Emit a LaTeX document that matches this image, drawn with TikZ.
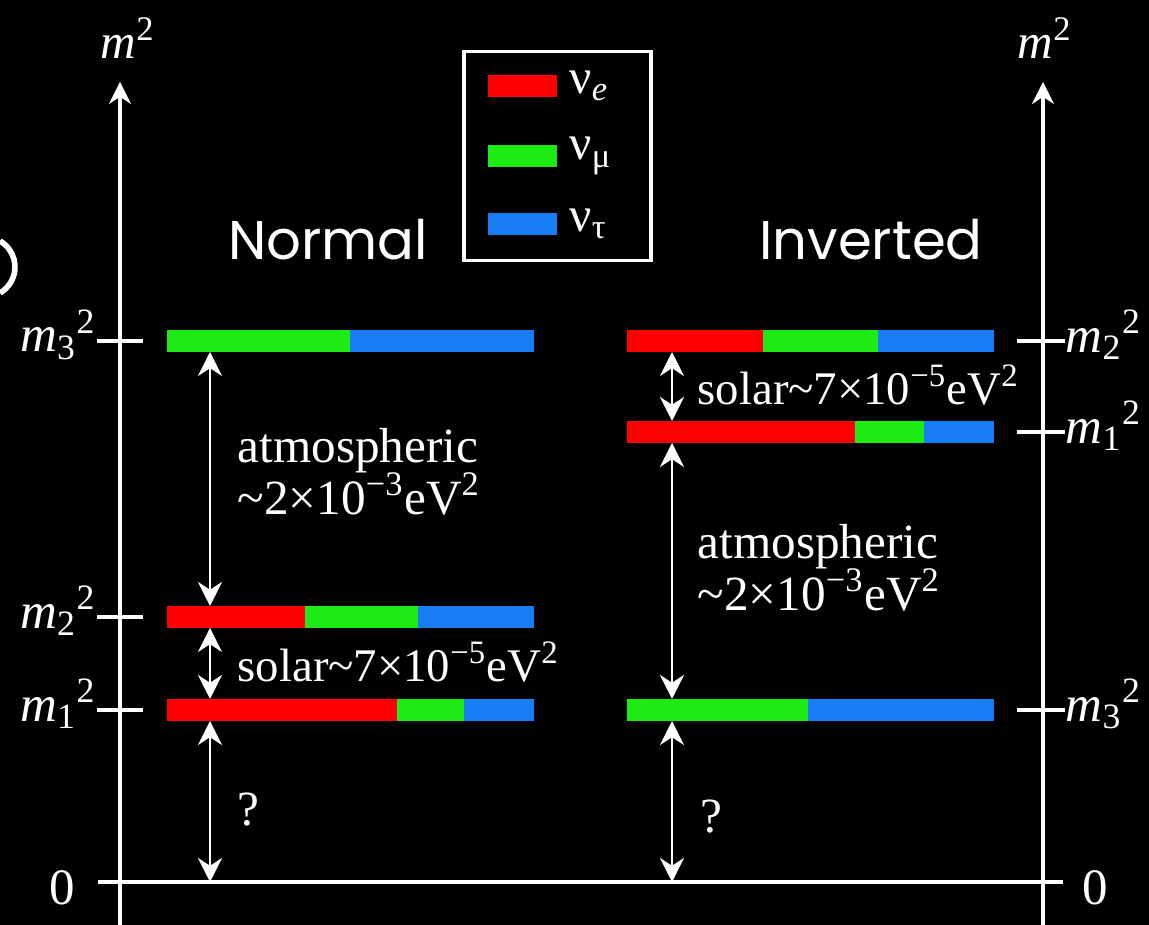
\documentclass[tikz,border=0pt]{standalone}
\usepackage{fontspec}
\setmainfont{Liberation Serif}
\newfontfamily\titlefont{Poppins}
\usetikzlibrary{arrows.meta,positioning}
\definecolor{nured}{RGB}{255,0,0}
\definecolor{nugreen}{RGB}{30,235,20}
\definecolor{nublue}{RGB}{25,125,245}
\tikzset{
  seg/.style={minimum height=0.22cm, inner sep=0pt, outer sep=0pt},
  gap/.style={white, line width=0.8pt, {Stealth[length=2.4mm,width=2.4mm]}-{Stealth[length=2.4mm,width=2.4mm]}},
  axis/.style={white, line width=0.9pt},
  lbl/.style={text=white, font=\fontsize{14}{16}\selectfont, inner sep=0pt},
  sol/.style={text=white, font=\fontsize{13.3}{16}\selectfont, inner sep=0pt},
  tick/.style={text=white, font=\fontsize{14.5}{16}\selectfont, inner sep=0pt}
}
\begin{document}
\begin{tikzpicture}
\useasboundingbox (0,0) rectangle (11.49,9.25);
\fill[black] (0,0) rectangle (11.49,9.25);
% cut-off bracket at the left edge
\draw[white, line width=1.6pt] (-0.15,6.58) ++(60:0.3) arc[start angle=60, end angle=-60, radius=0.3];
% axes
\coordinate (lbot) at (1.20,0);
\coordinate (ltop) at (1.20,8.43);
\coordinate (rbot) at (10.43,0);
\coordinate (rtop) at (10.43,8.43);
\coordinate (h0) at (0.98,0.43);
\coordinate (h1) at (10.63,0.43);
\coordinate (lx) at (2.10,0.43);
\coordinate (rx) at (6.72,0.43);
\draw[axis,-{Stealth[length=2.2mm,width=2.2mm]}] (lbot) -- (ltop);
\draw[axis,-{Stealth[length=2.2mm,width=2.2mm]}] (rbot) -- (rtop);
\draw[axis] (h0) -- (h1);
\node[lbl] (lm) at (1.28,8.87) {\textit{m}\textsuperscript{2}};
\node[lbl] (rm) at (10.45,8.87) {\textit{m}\textsuperscript{2}};
\node[tick] (l0) at (0.62,0.37) {0};
\node[tick] (r0) at (10.95,0.37) {0};
% legend
\node[draw=white, line width=0.9pt, minimum width=1.87cm, minimum height=2.09cm, inner sep=0pt] (legend) at (5.575,7.69) {};
\node[seg, fill=nured, minimum width=0.69cm, anchor=west] (ke) at (4.88,8.39) {};
\node[seg, fill=nugreen, minimum width=0.69cm, anchor=west] (km) at (4.88,7.69) {};
\node[seg, fill=nublue, minimum width=0.69cm, anchor=west] (kt) at (4.88,7.01) {};
\node[lbl, right=0.12cm of ke] (ne) {ν\textsubscript{\textit{e}}};
\node[lbl, right=0.12cm of km] (nm) {ν\textsubscript{μ}};
\node[lbl, right=0.12cm of kt] (nt) {ν\textsubscript{τ}};
% titles
\node[text=white, font=\titlefont\fontsize{15.5}{18}\selectfont] (normal) at (3.28,6.85) {Normal};
\node[text=white, font=\titlefont\fontsize{15.5}{18}\selectfont] (inverted) at (8.71,6.85) {Inverted};
% normal ordering
\node[seg, fill=nugreen, minimum width=1.83cm, anchor=west] (n3g) at (1.67,5.84) {};
\node[seg, fill=nublue, minimum width=1.84cm, right=0pt of n3g] (n3b) {};
\node[seg, fill=nured, minimum width=1.38cm, anchor=west] (n2r) at (1.67,3.08) {};
\node[seg, fill=nugreen, minimum width=1.13cm, right=0pt of n2r] (n2g) {};
\node[seg, fill=nublue, minimum width=1.16cm, right=0pt of n2g] (n2b) {};
\node[seg, fill=nured, minimum width=2.30cm, anchor=west] (n1r) at (1.67,2.15) {};
\node[seg, fill=nugreen, minimum width=0.67cm, right=0pt of n1r] (n1g) {};
\node[seg, fill=nublue, minimum width=0.70cm, right=0pt of n1g] (n1b) {};
\node[tick, anchor=east] (lm3) at (0.97,5.90) {\textit{m}\textsubscript{3}\textsuperscript{2}};
\node[tick, anchor=east] (lm2) at (0.97,3.14) {\textit{m}\textsubscript{2}\textsuperscript{2}};
\node[tick, anchor=east] (lm1) at (0.97,2.21) {\textit{m}\textsubscript{1}\textsuperscript{2}};
\draw[axis, shorten >=0.24cm] (lm3.east |- n3g.west) -- (n3g.west);
\draw[axis, shorten >=0.24cm] (lm2.east |- n2r.west) -- (n2r.west);
\draw[axis, shorten >=0.24cm] (lm1.east |- n1r.west) -- (n1r.west);
\draw[gap] (n3g.south -| lx) -- (n2r.north -| lx);
\draw[gap] (n2r.south -| lx) -- (n1r.north -| lx);
\draw[gap] (n1r.south -| lx) -- (lx);
\node[lbl, anchor=west] (natm) at (2.37,4.74) {atmospheric};
\node[lbl, anchor=west] (natmv) at (2.37,4.31) {\textasciitilde 2×10\textsuperscript{−3}eV\textsuperscript{2}};
\node[sol, anchor=west] (nsol) at (2.37,2.63) {solar\textasciitilde 7×10\textsuperscript{−5}eV\textsuperscript{2}};
\node[lbl, anchor=west] (nq) at (2.37,1.15) {?};
% inverted ordering
\node[seg, fill=nured, minimum width=1.36cm, anchor=west] (i2r) at (6.27,5.84) {};
\node[seg, fill=nugreen, minimum width=1.15cm, right=0pt of i2r] (i2g) {};
\node[seg, fill=nublue, minimum width=1.16cm, right=0pt of i2g] (i2b) {};
\node[seg, fill=nured, minimum width=2.28cm, anchor=west] (i1r) at (6.27,4.93) {};
\node[seg, fill=nugreen, minimum width=0.69cm, right=0pt of i1r] (i1g) {};
\node[seg, fill=nublue, minimum width=0.70cm, right=0pt of i1g] (i1b) {};
\node[seg, fill=nugreen, minimum width=1.81cm, anchor=west] (i3g) at (6.27,2.15) {};
\node[seg, fill=nublue, minimum width=1.86cm, right=0pt of i3g] (i3b) {};
\node[tick, anchor=west] (rm2) at (10.65,5.90) {\textit{m}\textsubscript{2}\textsuperscript{2}};
\node[tick, anchor=west] (rm1) at (10.65,4.99) {\textit{m}\textsubscript{1}\textsuperscript{2}};
\node[tick, anchor=west] (rm3) at (10.65,2.21) {\textit{m}\textsubscript{3}\textsuperscript{2}};
\draw[axis, shorten <=0.23cm] (i2b.east) -- (rm2.west |- i2b.east);
\draw[axis, shorten <=0.23cm] (i1b.east) -- (rm1.west |- i1b.east);
\draw[axis, shorten <=0.23cm] (i3b.east) -- (rm3.west |- i3b.east);
\draw[gap] (i2r.south -| rx) -- (i1r.north -| rx);
\draw[gap] (i1r.south -| rx) -- (i3g.north -| rx);
\draw[gap] (i3g.south -| rx) -- (rx);
\node[sol, anchor=west] (isol) at (6.97,5.40) {solar\textasciitilde 7×10\textsuperscript{−5}eV\textsuperscript{2}};
\node[lbl, anchor=west] (iatm) at (6.97,3.78) {atmospheric};
\node[lbl, anchor=west] (iatmv) at (6.97,3.35) {\textasciitilde 2×10\textsuperscript{−3}eV\textsuperscript{2}};
\node[lbl, anchor=west] (iq) at (7.00,1.08) {?};
\end{tikzpicture}
\end{document}
